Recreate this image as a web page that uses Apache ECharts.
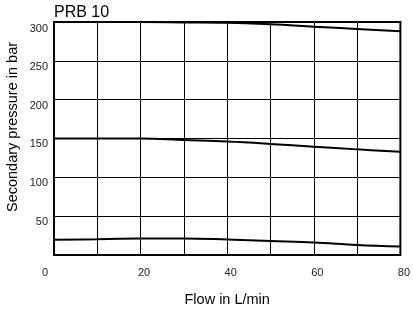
<!DOCTYPE html>
<html>
<head>
<meta charset="utf-8">
<script src="https://cdn.jsdelivr.net/npm/echarts@6/dist/echarts.min.js"></script>
<style>
  html, body { margin: 0; padding: 0; background: #fff; }
  #chart { width: 413px; height: 312px; }
</style>
</head>
<body>
<div id="chart"></div>
<script>
// 曲线数据
const flow = [0, 10, 20, 30, 40, 50, 60, 70, 80]
const p300 = [300, 300, 300, 299.5, 299, 297, 294, 291, 288]
const p150 = [150, 150, 150, 148, 146, 143, 139.5, 136, 133]
const p20 = [19.5, 20.3, 21.2, 21.4, 20, 18, 16, 13, 11]
const xTickLabels = [0, 20, 40, 60, 80]
const yTickLabels = [50, 100, 150, 200, 250, 300]

const font = 'Liberation Sans, Arial, sans-serif'
const toPairs = (ys) => flow.map((x, i) => [x, ys[i]])

const chartDom = document.getElementById('chart')
const myChart = echarts.init(chartDom)

const lineSeries = (ys) => ({
  type: 'line',
  data: toPairs(ys),
  smooth: 0.4,
  showSymbol: false,
  lineStyle: { color: '#000', width: 2 },
  xAxisIndex: 0,
  yAxisIndex: 0
})

const option = {
  animation: false,
  title: {
    text: 'PRB 10',
    left: 54,
    top: 5,
    padding: 0,
    textStyle: { fontFamily: font, fontSize: 16, fontWeight: 'normal', color: '#000' }
  },
  graphic: [{
    type: 'text',
    x: 13,
    y: 127,
    rotation: Math.PI / 2,
    style: {
      text: 'Secondary pressure in bar',
      font: '14.5px ' + font,
      fill: '#000',
      align: 'center',
      verticalAlign: 'middle'
    }
  }],
  grid: [
    { left: 54, right: 10, top: 22, bottom: 52, show: true, borderColor: '#000', borderWidth: 2 },
    // 只用来放 y 轴刻度文字
    { left: 54, right: 10, top: 28.5, bottom: 51.7 }
  ],
  xAxis: [{
    gridIndex: 0,
    type: 'value',
    min: 0,
    max: 80,
    interval: 10,
    name: 'Flow in L/min',
    nameLocation: 'middle',
    nameGap: 37,
    nameTextStyle: { fontFamily: font, fontSize: 14.5, color: '#000' },
    axisLine: { show: false },
    axisTick: { show: false },
    splitLine: { show: true, lineStyle: { color: '#000', width: 1 } },
    axisLabel: {
      margin: 12,
      formatter: (v) => {
        if (!xTickLabels.includes(v)) return ''
        return v === 0 ? '{z|0}' : '{n|' + v + '}'
      },
      rich: {
        z: { fontFamily: font, fontSize: 11, color: '#222', padding: [0, 18, 0, 0] },
        n: { fontFamily: font, fontSize: 11, color: '#222', padding: [0, 0, 0, 7] }
      }
    }
  }, {
    gridIndex: 1,
    type: 'value',
    min: 0,
    max: 80,
    show: false
  }],
  yAxis: [{
    gridIndex: 0,
    type: 'value',
    min: 0,
    max: 300,
    interval: 50,
    axisLine: { show: false },
    axisTick: { show: false },
    axisLabel: { show: false },
    splitLine: { show: true, lineStyle: { color: '#000', width: 1 } }
  }, {
    gridIndex: 1,
    type: 'value',
    min: 0,
    max: 300,
    interval: 50,
    axisLine: { show: false },
    axisTick: { show: false },
    splitLine: { show: false },
    axisLabel: {
      margin: 6,
      fontFamily: font,
      fontSize: 11,
      color: '#222',
      formatter: (v) => (yTickLabels.includes(v) ? String(v) : '')
    }
  }],
  series: [lineSeries(p300), lineSeries(p150), lineSeries(p20)]
}

option && myChart.setOption(option)
</script>
</body>
</html>
